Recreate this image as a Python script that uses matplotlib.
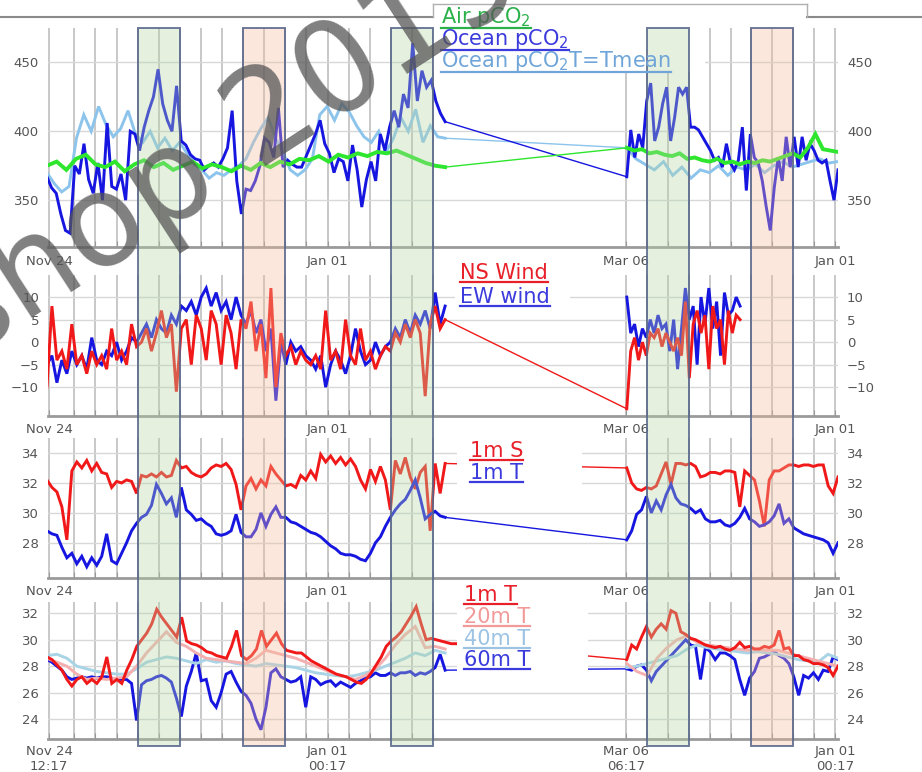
"""
Series de pCO2, viento, salinidad y temperatura en dos periodos de fondeo.
Figura compuesta de cuatro paneles con bandas de eventos sombreadas.
"""

import numpy as np
import matplotlib.pyplot as plt
from matplotlib.lines import Line2D
from matplotlib.patches import Rectangle
from matplotlib.colors import to_rgba
from matplotlib.transforms import blended_transform_factory

W, H = 922, 772

# =============================================================================
# EJE X (unidades de rejilla), FECHAS Y BANDAS
# =============================================================================
X_MIN, X_MAX = -0.05, 37.39
TRAMO_IZQ = (-0.1, 18.77)       # Nov 24 -> fin del primer periodo
TRAMO_IZQ_T1 = (-0.1, 19.29)
TRAMO_DER = (27.38, 37.39)      # Mar 06 -> fin del segundo periodo
TRAMO_DER_VIENTO = (27.38, 32.75)

GRID_IZQ = [0.0, 1.2, 2.2, 3.2, 4.2, 5.2, 6.2, 7.2, 8.2, 9.2,
            10.2, 11.2, 12.2, 13.2, 14.2, 15.2, 16.2, 17.2, 18.2]
GRID_DER = [27.35, 28.34, 29.33, 30.32, 31.31, 32.30,
            33.29, 34.28, 35.27, 36.26, 37.25]

FECHAS = {0.0: 'Nov 24', 13.2: 'Jan 01', 27.35: 'Mar 06', 37.25: 'Jan 01'}
FECHAS_HORA = {0.0: 'Nov 24\n12:17', 13.2: 'Jan 01\n00:17',
               27.35: 'Mar 06\n06:17', 37.25: 'Jan 01\n00:17'}

BANDAS = [(4.2, 6.2, 'verde'), (9.2, 11.2, 'naranja'), (16.2, 18.2, 'verde'),
          (28.34, 30.32, 'verde'), (33.29, 35.27, 'naranja')]

# =============================================================================
# PANEL 1: pCO2 (uatm)
# =============================================================================
PCO2_AIRE_IZQ = [375, 378, 372, 380, 383, 376, 374, 378, 371, 376, 379, 374, 377, 372,
                 375, 378, 373, 376, 374, 371, 375, 372, 377, 374, 378, 376, 380, 379,
                 382, 378, 383, 381, 384, 382, 385, 384, 386, 383, 380, 377, 375, 374]
PCO2_AIRE_DER = [388, 386, 387, 384, 385, 383, 382, 384, 380, 381, 379, 378, 380, 377,
                 378, 376, 378, 377, 379, 378, 380, 382, 384, 381, 388, 398, 387, 386, 385]

PCO2_OCEANO_IZQ = [367, 359, 355, 340, 328, 326, 375, 369, 391, 365, 355, 377, 350, 406,
                   360, 358, 369, 350, 400, 398, 386, 403, 415, 425, 445, 420, 408, 400,
                   433, 393, 390, 383, 380, 379, 372, 375, 377, 374, 380, 388, 415, 364,
                   340, 358, 357, 364, 375, 395, 392, 381, 417, 374, 379, 376, 374, 374,
                   382, 390, 398, 408, 391, 384, 370, 380, 378, 364, 390, 372, 345, 365,
                   378, 364, 398, 386, 403, 415, 403, 427, 417, 464, 422, 444, 432, 437,
                   422, 413, 407]
PCO2_OCEANO_DER = [367, 401, 381, 398, 388, 422, 435, 393, 403, 420, 432, 393, 410, 432,
                   427, 432, 403, 403, 401, 396, 391, 386, 379, 381, 374, 391, 377, 372,
                   379, 403, 357, 398, 381, 377, 364, 345, 328, 359, 381, 364, 396, 374,
                   396, 374, 396, 379, 391, 386, 379, 377, 379, 364, 350, 372]

PCO2_TMEDIA_IZQ = [370, 362, 356, 360, 395, 412, 400, 418, 405, 396, 402, 415, 398, 392,
                   400, 388, 395, 386, 392, 384, 376, 372, 366, 370, 368, 372, 375, 380,
                   392, 402, 410, 395, 385, 372, 368, 372, 380, 412, 418, 408, 420, 414,
                   404, 396, 392, 400, 385, 395, 410, 400, 416, 392, 404, 396, 395]
PCO2_TMEDIA_DER = [388, 380, 376, 372, 378, 368, 374, 366, 372, 370, 375, 368, 374, 372,
                   376, 370, 375, 378, 374, 376, 378, 380, 377, 378]

# =============================================================================
# PANEL 2: viento (m/s)
# =============================================================================
VIENTO_NS_IZQ = [-10, 8, -4, -2, -6, 4, -5, -3, -7, -2, -5, -3, -6, 3, -4, -2, -5, 4, -1,
                 0, 3, -2, 2, 7, 1, 4, -11, 3,
                 5, -5, 6, 3, -4, 7, 4, -5, 6, 2, -6, 5,
                 3, 9, -2, 4, -8, 12, -10, 2, -3, -1, -5, -2, -4,
                 -5, -3, -6, 7, -4, -2, -6, 5, -3, -5, 3, -4, -2, -6, -3, -1,
                 -2, 2, 0, 4, 1, 5, 2, -12, 4, 8, 3, 5]
VIENTO_EW_IZQ = [-5, -3, -9, -4, -7, -2, -5, -3, -6, 1, -4, -5, -2, -3, 0, -4, -2, 1, 0,
                 2, 4, 1, 5, 3, 2, 6, 4, 8,
                 7, 9, 6, 10, 12, 8, 11, 7, 9, 5, 10, 6,
                 4, 7, 2, 5, -2, 3, -13, 0, -5, 0, -2, -1, -3,
                 -4, -6, -3, -10, -5, -2, -4, -7, -3, 3, -2, -5, -4, 0, -3, -1,
                 0, 3, 1, 5, 2, 6, 4, 7, 3, 11, 4, 8]
VIENTO_NS_DER = [-14.8, -2, 1, -4, 0, -3, 2, 1, 3, -1, 2, 0, -2, 1, -3, 9, -8, 4, 7, 2,
                 6, -6, 8, 3, 5, -5, 7, 2, 6, 5]
VIENTO_EW_DER = [10, 2, 4, -1, 3, 1, 5, 2, 6, 3, 4, -2, 5, -6, 3, 12, 5, 8, -5, 10,
                 4, 12, 3, 9, -3, 11, 6, 7, 10, 8]

# =============================================================================
# PANEL 3: salinidad y temperatura a 1 m
# =============================================================================
S1_IZQ = [32.2, 31.7, 31.4, 30.4, 28.2, 32.8, 33.4, 33.0, 33.5, 32.8, 33.3, 32.7, 32.6,
          31.7, 32.1, 32.0, 32.2, 32.1, 31.3, 32.5, 32.4, 32.6, 32.4, 32.7, 32.4, 32.5,
          33.5, 33.0, 33.1, 32.7, 32.5, 32.4, 32.6, 33.0, 33.2, 33.1, 33.3, 32.9, 31.9,
          30.2, 31.8, 32.3, 31.6, 32.2, 31.8, 33.1, 32.6, 32.2, 31.8, 31.9, 31.7, 32.5,
          32.2, 32.8, 32.3, 33.9, 33.4, 33.8, 33.3, 33.7, 33.2, 33.6, 33.1, 32.2, 31.6,
          32.9, 32.1, 33.1, 32.2, 30.2, 33.5, 32.6, 33.7, 32.4, 31.6, 32.7, 33.1, 28.8,
          33.3, 31.3, 33.3]
T1_IZQ = [28.8, 28.6, 28.5, 27.7, 27.0, 27.3, 26.6, 27.1, 26.4, 27.0, 26.5, 27.1, 28.6,
          26.8, 26.6, 27.3, 28.0, 28.8, 29.3, 29.7, 29.9, 30.5, 31.9, 31.3, 30.6, 31.0,
          29.7, 31.7, 30.2, 29.9, 29.5, 29.6, 29.3, 29.1, 28.6, 28.5, 28.6, 28.8, 29.9,
          28.7, 28.4, 28.4, 28.9, 30.0, 29.1, 29.9, 30.4, 29.7, 29.7, 29.4, 29.3, 29.1,
          28.9, 28.7, 28.6, 28.4, 28.1, 27.8, 27.6, 27.3, 27.2, 27.2, 27.1, 26.9, 26.8,
          27.3, 28.0, 28.4, 29.1, 29.7, 30.2, 30.6, 30.9, 31.5, 32.2, 31.0, 29.6, 29.9,
          30.1, 29.8, 29.7]
S1_DER = [33.0, 32.0, 31.6, 31.5, 31.7, 31.6, 31.8, 32.6, 33.4, 31.9, 33.3, 33.3, 33.2,
          33.3, 33.1, 32.4, 32.5, 32.7, 32.7, 32.6, 32.8, 32.8, 32.7, 30.4, 32.8, 32.5,
          32.2, 30.8, 29.1, 32.2, 32.8, 32.8, 33.0, 33.2, 33.2, 33.1, 33.2, 33.2, 33.1,
          33.2, 33.2, 31.8, 31.3, 32.4]
T1_DER = [28.2, 28.8, 29.9, 30.2, 31.1, 30.0, 30.8, 30.2, 31.2, 31.9, 31.0, 30.6, 30.5,
          30.3, 30.0, 30.2, 29.6, 29.4, 29.4, 29.5, 29.2, 29.1, 29.3, 29.7, 30.3, 29.6,
          29.4, 29.1, 29.2, 29.4, 29.8, 30.6, 29.3, 29.6, 29.0, 28.8, 28.6, 28.5, 28.4,
          28.3, 28.2, 28.0, 27.3, 28.0]

# =============================================================================
# PANEL 4: temperatura a 1, 20, 40 y 60 m
# =============================================================================
T1M_IZQ = [28.7, 28.5, 28.1, 27.7, 27.0, 26.5, 27.0, 27.2, 26.7, 27.0, 26.7, 27.2, 28.7,
           26.7, 27.0, 26.7, 27.7, 28.5, 29.5, 30.0, 30.5, 31.2, 32.3, 31.7, 31.2, 30.7,
           30.2, 31.7, 29.9, 29.7, 29.6, 29.4, 29.1, 29.0, 28.8, 28.7, 28.6, 29.5, 30.7,
           28.8, 28.5, 28.8, 29.3, 30.7, 29.5, 30.0, 30.5, 29.7, 29.2, 29.1, 29.0, 29.0,
           28.7, 28.4, 28.2, 28.0, 27.8, 27.6, 27.4, 27.3, 27.2, 27.0, 26.8, 26.7, 27.0,
           27.5, 28.1, 28.7, 29.5, 29.9, 30.2, 30.6, 31.2, 31.8, 32.5, 31.2, 30.0, 30.1,
           30.0, 29.9, 29.8, 29.7, 29.7]
T20M_IZQ = [28.6, 28.3, 28.0, 27.4, 27.0, 27.1, 27.0, 27.1, 27.2, 28.0, 29.0, 29.8, 30.6,
            29.8, 29.5, 29.0, 28.6, 28.5, 28.4, 28.3, 28.2, 28.6, 29.2, 29.0, 28.8, 28.6,
            28.3, 28.0, 27.7, 27.4, 27.2, 27.0, 27.3, 27.8, 28.6, 29.6, 30.4, 31.0, 29.4,
            29.5, 29.3]
T40M_IZQ = [28.8, 28.9, 28.6, 28.0, 27.8, 27.6, 27.5, 27.4, 27.4, 27.8, 28.3, 28.5, 28.7,
            28.6, 28.4, 28.2, 28.5, 28.3, 28.4, 28.2, 28.1, 28.0, 28.2, 28.1, 28.0, 27.9,
            27.7, 27.5, 27.4, 27.3, 27.2, 27.3, 27.5, 27.7, 28.0, 28.3, 28.6, 29.0, 28.8,
            29.2, 29.0]
T60M_IZQ = [28.5, 28.3, 28.0, 27.7, 27.2, 27.0, 27.1, 27.2, 27.1, 27.2, 27.1, 27.2, 27.2,
            27.1, 27.0, 27.0, 27.0, 26.7, 23.9, 26.6, 26.9, 27.0, 27.2, 27.3, 27.1, 26.8,
            25.6, 24.2, 26.5, 27.6, 29.0, 26.9, 27.0, 25.4, 24.9, 26.0, 27.4, 27.6, 26.8,
            26.1, 25.8, 25.2, 24.0, 23.2, 24.9, 27.5, 27.8, 27.2, 27.0, 26.8, 26.9, 27.2,
            24.9, 27.2, 27.0, 26.6, 26.8, 26.9, 26.5, 26.8, 26.6, 26.4, 26.7, 26.9, 27.1,
            27.2, 27.5, 27.3, 27.3, 27.5, 27.3, 27.5, 27.5, 27.6, 27.3, 27.5, 27.4, 27.6,
            27.9, 28.9, 27.7]
T1M_DER = [28.5, 29.6, 29.3, 30.2, 31.0, 30.2, 30.8, 31.2, 30.8, 32.2, 32.0, 30.6, 30.4,
           30.1, 30.0, 29.8, 29.6, 29.5, 29.4, 29.5, 29.3, 29.2, 29.4, 29.8, 29.4, 29.5,
           29.3, 29.3, 29.5, 29.4, 29.6, 30.7, 29.3, 29.4, 28.8, 28.8, 28.5, 28.4, 28.2,
           28.2, 28.1, 27.9, 27.3, 28.0]
T20M_DER = [28.2, 27.6, 27.3, 28.6, 29.4, 30.0, 30.3, 29.8, 29.6, 29.5, 29.4, 29.3, 29.2,
            29.3, 29.2, 29.2, 29.0, 28.8, 28.6, 28.4, 28.2, 28.0]
T40M_DER = [27.9, 28.0, 28.2, 28.4, 28.6, 28.8, 29.3, 29.6, 29.4, 29.3, 29.2, 29.1, 29.0,
            29.1, 29.0, 28.9, 28.7, 28.5, 28.4, 28.3, 28.9, 28.6]
T60M_DER = [27.8, 27.7, 28.0, 28.1, 27.7, 26.9, 27.6, 28.0, 28.4, 28.8, 29.2, 29.6, 30.0,
            29.6, 29.5, 27.0, 29.4, 29.1, 28.5, 29.0, 29.0, 28.8, 28.5, 27.0, 25.8, 27.1,
            27.6, 28.6, 28.7, 28.9, 29.1, 28.8, 28.6, 28.2, 27.2, 25.8, 27.3, 27.1, 27.5,
            27.0, 27.7, 27.6, 28.7, 28.5]

# Colores
VERDE, AZUL, CELESTE = '#2ee62e', '#1616e0', '#8cc4ec'
ROJO, ROSA, AZUL_CLARO = '#f01818', '#f4b0b0', '#a8d4e6'


# =============================================================================
# FUNCIONES AUXILIARES
# =============================================================================
def serie(ax, izq, der, color, tramo_izq=TRAMO_IZQ, tramo_der=TRAMO_DER,
          lw=2.1, unir=True):
    """Dibuja los dos periodos y, si se pide, la recta que une el hueco."""
    xi = np.linspace(*tramo_izq, len(izq))
    xd = np.linspace(*tramo_der, len(der))
    ax.plot(xi, izq, color=color, lw=lw, solid_joinstyle='miter')
    ax.plot(xd, der, color=color, lw=lw, solid_joinstyle='miter')
    if unir:
        ax.plot([xi[-1], xd[0]], [izq[-1], der[0]], color=color, lw=1.0)


def preparar_eje(ax, ylim, yticks, yetiq, fechas, pad_x=5):
    ax.set_xlim(X_MIN, X_MAX)
    ax.set_ylim(*ylim)
    for lado in ['top', 'left', 'right']:
        ax.spines[lado].set_visible(False)
    ax.spines['bottom'].set_color('#9a9a9a')
    ax.spines['bottom'].set_linewidth(2)
    ax.set_yticks(yticks)
    ax.set_yticklabels(yetiq)
    ax.tick_params(axis='y', left=False, right=False, labelleft=True,
                   labelright=True, labelsize=9.5, labelcolor='#555555', pad=3)
    pos = GRID_IZQ + GRID_DER
    ax.set_xticks(pos)
    ax.set_xticklabels([fechas.get(p, '') for p in pos])
    ax.tick_params(axis='x', length=4, direction='in', color='#999999',
                   labelsize=9.5, labelcolor='#555555', pad=pad_x)
    ax.grid(True, axis='x', color='#c8c8c8', lw=1.4)
    ax.grid(True, axis='y', color='#d8d8d8', lw=1.0)
    ax.set_axisbelow(True)


def px_eje(fig, x0, y_top, x1, y_bot):
    return fig.add_axes([x0 / W, 1 - y_bot / H, (x1 - x0) / W, (y_bot - y_top) / H])


def caja_blanca(fig, x0, y0, x1, y1):
    fig.add_artist(Rectangle((x0 / W, 1 - y1 / H), (x1 - x0) / W, (y1 - y0) / H,
                             transform=fig.transFigure, facecolor='white',
                             edgecolor='none', zorder=2.5))


def leyenda(fig, items, x, ys, size=15):
    textos = []
    for (txt, color), y in zip(items, ys):
        t = fig.text(x / W, 1 - y / H, txt, color=color, fontsize=size,
                     ha='left', va='center', zorder=6)
        textos.append((t, color))
    return textos


def linea_px(fig, xs, ys, color, lw):
    fig.add_artist(Line2D([x / W for x in xs], [1 - y / H for y in ys],
                          transform=fig.transFigure, color=color, lw=lw, zorder=6))


# =============================================================================
# FIGURA
# =============================================================================
fig = plt.figure(figsize=(W / 100, H / 100), dpi=100)
fig.patch.set_facecolor('white')

ax1 = px_eje(fig, 48, 28, 838, 247)
ax2 = px_eje(fig, 48, 275, 838, 416)
ax3 = px_eje(fig, 48, 438, 838, 578)
ax4 = px_eje(fig, 48, 602, 838, 739)

# Panel 1 - pCO2
preparar_eje(ax1, (316, 475), [350, 400, 450], ['350', '400', '450'], FECHAS, pad_x=6)
serie(ax1, PCO2_TMEDIA_IZQ, PCO2_TMEDIA_DER, CELESTE)
serie(ax1, PCO2_OCEANO_IZQ, PCO2_OCEANO_DER, AZUL)
serie(ax1, PCO2_AIRE_IZQ, PCO2_AIRE_DER, VERDE, lw=2.8)

# Panel 2 - viento
preparar_eje(ax2, (-16.4, 14.9), [-10, -5, 0, 5, 10],
             ['\u221210', '\u22125', '0', '5', '10'], FECHAS, pad_x=5)
serie(ax2, VIENTO_EW_IZQ, VIENTO_EW_DER, AZUL, tramo_der=TRAMO_DER_VIENTO, unir=False)
serie(ax2, VIENTO_NS_IZQ, VIENTO_NS_DER, ROJO, tramo_der=TRAMO_DER_VIENTO)

# Panel 3 - S y T a 1 m
preparar_eje(ax3, (25.65, 35.0), [28, 30, 32, 34], ['28', '30', '32', '34'], FECHAS, pad_x=5)
serie(ax3, S1_IZQ, S1_DER, ROJO)
serie(ax3, T1_IZQ, T1_DER, AZUL)

# Panel 4 - temperaturas
preparar_eje(ax4, (22.5, 32.85), [24, 26, 28, 30, 32],
             ['24', '26', '28', '30', '32'], FECHAS_HORA, pad_x=4)
serie(ax4, T60M_IZQ, T60M_DER, AZUL)
serie(ax4, T40M_IZQ, T40M_DER, AZUL_CLARO, unir=False)
serie(ax4, T20M_IZQ, T20M_DER, ROSA, unir=False)
serie(ax4, T1M_IZQ, T1M_DER, ROJO, tramo_izq=TRAMO_IZQ_T1)

# Bandas de eventos que cruzan los cuatro paneles
trans = blended_transform_factory(ax4.transData, fig.transFigure)
caras = {'verde': '#b5d6a6', 'naranja': '#f4bd9b'}
for x0, x1, tipo in BANDAS:
    fig.add_artist(Rectangle((x0, 1 - 746 / H), x1 - x0, (746 - 28) / H,
                             transform=trans, facecolor=to_rgba(caras[tipo], 0.35),
                             edgecolor=to_rgba('#56648a', 0.85), lw=1.4, zorder=4))

# Cajas blancas de las leyendas
caja_blanca(fig, 433, 4, 705, 72)
caja_blanca(fig, 455, 262, 570, 310)
caja_blanca(fig, 457, 440, 582, 488)
caja_blanca(fig, 457, 585, 588, 673)

# Marco superior
gris = '#8a8a8a'
linea_px(fig, [0, 433], [17, 17], gris, 1.5)
linea_px(fig, [807, W], [17, 17], gris, 1.5)
linea_px(fig, [433, 807], [4, 4], '#b0b0b0', 1.0)
linea_px(fig, [433, 433], [4, 17], '#b0b0b0', 1.0)
linea_px(fig, [807, 807], [4, 17], '#b0b0b0', 1.0)

# Leyendas subrayadas
textos = []
textos += leyenda(fig, [('Air pCO$_2$', '#2bb14a'), ('Ocean pCO$_2$', '#3b3bdd'),
                        ('Ocean pCO$_2$T=Tmean', '#6fa5d8')], 441, [17, 39, 61])
textos += leyenda(fig, [('NS Wind', '#e8202a'), ('EW wind', '#3b3bdd')], 460, [273, 297])
textos += leyenda(fig, [('1m S', '#e8202a'), ('1m T', '#3b3bdd')], 470, [451, 473])
textos += leyenda(fig, [('1m T', '#e8202a'), ('20m T', '#f29a9a'),
                        ('40m T', '#9cc3e3'), ('60m T', '#3b3bdd')], 464,
                  [595, 617, 639, 660])

# Marca de agua
fig.text(-0.331, 0.305, 'Workshop 2019', fontsize=92, color='#555555', alpha=0.75,
         rotation=33, rotation_mode='anchor', ha='left', va='baseline', zorder=8)

fig.canvas.draw()
rend = fig.canvas.get_renderer()
inv = fig.transFigure.inverted()
for t, color in textos:
    bb = t.get_window_extent(rend)
    (x0, y0), (x1, _) = inv.transform([[bb.x0, bb.y0 + 1], [bb.x1, bb.y0 + 1]])
    fig.add_artist(Line2D([x0, x1], [y0, y0], transform=fig.transFigure,
                          color=color, lw=1.6, zorder=6))

plt.savefig('out.png', dpi=100)
